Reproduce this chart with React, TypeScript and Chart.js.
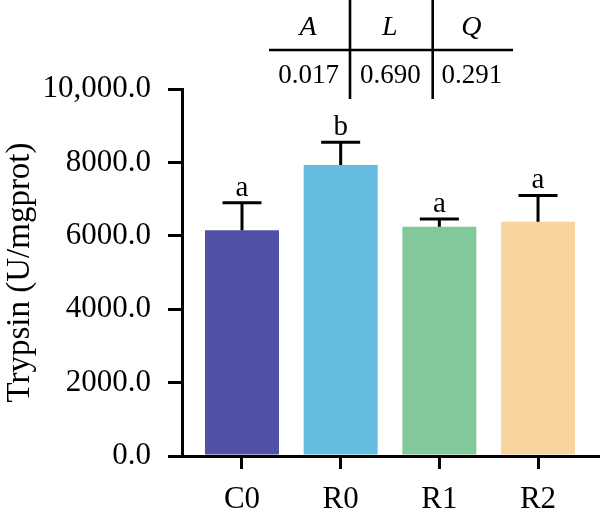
import { useEffect, useRef } from 'react';
import { Chart, registerables } from 'chart.js';

Chart.register(...registerables);

// Trypsin activity per group (mean ± SD) with significance letters
const groups = ['C0', 'R0', 'R1', 'R2'];
const means = [6150, 7930, 6250, 6380];
const sds = [750, 620, 210, 720];
const letters = ['a', 'b', 'a', 'a'];
const barColors = ['#5050A6', '#64BDDF', '#83C89A', '#F8D49F'];
const yTicks = [0, 2000, 4000, 6000, 8000, 10000];

// Orthogonal contrast p-values shown in the table above the plot
const trendTerms = ['A', 'L', 'Q'];
const trendPValues = ['0.017', '0.690', '0.291'];

const FONT = '"Liberation Serif", "Times New Roman", serif';

const formatTick = (v: number) =>
  (v >= 10000 ? v.toLocaleString('en-US') : String(v)) + '.0';

const errorBarPlugin = {
  id: 'errorBars',
  afterDatasetsDraw(chart: any) {
    const { ctx, scales } = chart;
    const meta = chart.getDatasetMeta(0);
    ctx.save();
    ctx.strokeStyle = '#000';
    ctx.fillStyle = '#000';
    ctx.lineWidth = 3;
    ctx.font = `29px ${FONT}`;
    ctx.textAlign = 'center';
    ctx.textBaseline = 'alphabetic';
    meta.data.forEach((bar: any, i: number) => {
      const x = bar.x;
      const yTop = scales.y.getPixelForValue(means[i] + sds[i]);
      const yMean = scales.y.getPixelForValue(means[i]);
      const half = 19.5;
      ctx.beginPath();
      ctx.moveTo(x, yMean);
      ctx.lineTo(x, yTop);
      ctx.moveTo(x - half, yTop);
      ctx.lineTo(x + half, yTop);
      ctx.stroke();
      ctx.fillText(letters[i], x, yTop - 7);
    });
    ctx.restore();
  },
};

const tablePlugin = {
  id: 'contrastTable',
  afterDraw(chart: any) {
    const { ctx } = chart;
    const left = 269;
    const right = 513;
    const cols = [left, 350, 432.7, right];
    ctx.save();
    ctx.strokeStyle = '#000';
    ctx.lineWidth = 2.6;
    ctx.beginPath();
    ctx.moveTo(left, 50);
    ctx.lineTo(right, 50);
    ctx.moveTo(cols[1], 0);
    ctx.lineTo(cols[1], 99);
    ctx.moveTo(cols[2], 0);
    ctx.lineTo(cols[2], 99);
    ctx.stroke();
    ctx.fillStyle = '#000';
    ctx.textAlign = 'center';
    ctx.textBaseline = 'alphabetic';
    for (let i = 0; i < 3; i++) {
      const cx = (cols[i] + cols[i + 1]) / 2;
      ctx.font = `italic 28px ${FONT}`;
      ctx.fillText(trendTerms[i], cx - 1.5, 35);
      ctx.font = `27px ${FONT}`;
      ctx.fillText(trendPValues[i], cx - 1, 83);
    }
    ctx.restore();
  },
};

export default function App() {
  const canvasRef = useRef<HTMLCanvasElement | null>(null);

  useEffect(() => {
    if (!canvasRef.current) return;
    const chart = new Chart(canvasRef.current, {
      type: 'bar',
      data: {
        datasets: [
          {
            data: groups.map((_, i) => ({ x: i, y: means[i] })),
            backgroundColor: barColors,
            borderWidth: 0,
            barPercentage: 0.75,
            categoryPercentage: 1,
          },
        ],
      },
      options: {
        animation: false,
        responsive: false,
        layout: { padding: { top: 89, right: 0, left: 0, bottom: 0 } },
        plugins: {
          legend: { display: false },
          tooltip: { enabled: false },
        },
        scales: {
          x: {
            type: 'linear',
            min: -0.608,
            max: 3.628,
            offset: false,
            z: 1,
            afterBuildTicks: (scale: any) => {
              scale.ticks = groups.map((_, i) => ({ value: i }));
            },
            afterFit: (scale: any) => {
              scale.height = 54;
            },
            ticks: {
              callback: (v: any) => groups[v as number] ?? '',
              color: '#000',
              font: { family: FONT, size: 31 },
              padding: 12,
              maxRotation: 0,
            },
            grid: {
              offset: false,
              drawOnChartArea: false,
              drawTicks: true,
              tickLength: 13,
              color: '#000',
              lineWidth: 3,
            },
            border: { display: true, color: '#000', width: 3 },
          },
          y: {
            min: 0,
            max: 10000,
            z: 1,
            afterBuildTicks: (scale: any) => {
              scale.ticks = yTicks.map((v) => ({ value: v }));
            },
            afterFit: (scale: any) => {
              scale.width = 182;
            },
            ticks: {
              callback: (v: any) => formatTick(v as number),
              color: '#000',
              font: { family: FONT, size: 31 },
              padding: 17,
            },
            grid: {
              drawOnChartArea: false,
              drawTicks: true,
              tickLength: 14,
              color: '#000',
              lineWidth: 3,
            },
            border: { display: true, color: '#000', width: 3 },
            title: {
              display: true,
              text: 'Trypsin (U/mgprot)',
              color: '#000',
              font: { family: FONT, size: 33 },
              padding: { top: 1, bottom: 0 },
            },
          },
        },
      },
      plugins: [errorBarPlugin, tablePlugin],
    });
    return () => chart.destroy();
  }, []);

  return (
    <div style={{ position: 'fixed', left: 0, top: 0, width: 600, height: 510, background: '#fff' }}>
      <canvas ref={canvasRef} width={600} height={510} />
    </div>
  );
}
